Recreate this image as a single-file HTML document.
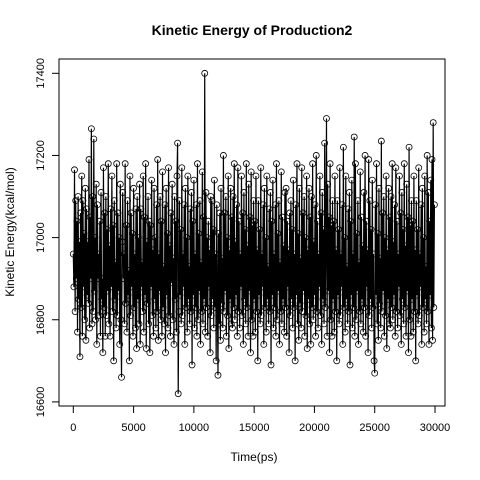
<!DOCTYPE html>
<html><head><meta charset="utf-8"><style>
html,body{margin:0;padding:0;background:#fff;}
svg{display:block;font-family:"Liberation Sans",sans-serif;}
</style></head><body>
<svg id="chart" width="480" height="480" viewBox="0 0 480 480">
<rect width="480" height="480" fill="#fff"/>
<text x="252" y="35" text-anchor="middle" font-size="14" font-weight="bold">Kinetic Energy of Production2</text>
<text x="254" y="461" text-anchor="middle" font-size="12">Time(ps)</text>
<text transform="translate(14,232) rotate(-90)" text-anchor="middle" font-size="12">Kinetic Energy(kcal/mol)</text>
<g id="series"></g>
<rect x="59" y="59" width="386" height="347" fill="none" stroke="#000" stroke-width="1"/>
<g id="axes"></g>
</svg>
<script>
const xTicks=[0,5000,10000,15000,20000,25000,30000];
const yTicks=[16600,16800,17000,17200,17400];
const timeStep=50;
const energy=[
16960,16880,17165,16820,17090,16900,17040,16770,17100,16850,16990,16710,17060,16830,17150,16760,17090,16880,17010,16800,
17120,16750,17070,16860,16990,16840,17190,16780,17050,16900,17265,16790,17100,16820,17240,16870,17000,16800,17130,16740,
17080,16900,16960,16810,17040,16760,17110,16850,16900,16720,17170,16830,17060,16760,17100,16810,17020,16870,17180,16790,
16980,16760,17070,16880,17150,16820,17030,16700,17090,16850,16940,16780,17180,16810,17060,16870,17000,16740,17130,16800,
16660,16990,17110,16900,16960,16790,17180,16840,17030,16770,17090,16860,16920,16700,17150,16810,17060,16880,17010,16760,
17120,16830,16960,16780,17070,16730,17100,16850,17000,16790,17130,16740,17070,16880,16940,16820,17150,16770,17050,16860,
17180,16730,16990,16840,17100,16790,17040,16720,17030,16880,17140,16810,16970,16760,17120,16850,17000,16780,17080,16820,
17190,16750,16960,16870,17100,16800,17040,16760,17160,16830,16930,16790,17080,16720,17120,16860,17010,16780,17170,16810,
16980,16760,17060,16890,17130,16800,16950,16740,17100,16850,17040,16770,17150,17230,16620,16820,17090,16860,17020,16790,
17170,16810,16960,16880,17080,16740,17120,16830,17000,16770,17150,16850,16930,16790,17070,16820,17110,16690,17040,16860,
17140,16780,16960,16830,17080,16760,17180,16800,17010,16870,17090,16740,16940,16820,17160,16790,17050,16850,17400,16770,
17110,16830,17000,16760,17040,16880,16970,16720,17100,16810,17090,16850,17020,16780,17140,16830,16960,16700,17080,16860,
16665,17010,16790,17060,16750,17120,16840,16950,16780,17200,16820,17060,16870,17100,16760,17000,16810,17150,16730,16970,
16850,17120,16790,17050,16780,17100,16830,17180,16800,16990,16860,17080,16760,17170,16820,17040,16780,16960,16880,17150,
16810,17060,16740,17110,16850,17020,16790,17180,16830,16980,16760,17130,16870,17050,16720,17160,16800,17030,16760,17090,
16850,17040,16770,17150,16820,16970,16700,17090,16860,17020,16790,17170,16810,16960,16880,17080,16740,17120,16830,17000,
16770,17150,16850,16930,16790,17070,16820,17110,16690,17040,16860,17140,16780,16960,16830,17080,16760,17180,16800,17010,
16870,17090,16740,16940,16820,17160,16790,17050,16850,16980,16770,17110,16830,17120,16760,17040,16880,16970,16720,17060,
16810,17090,16850,17020,16780,17140,16830,16960,16700,17080,16860,17180,16790,17010,16750,17120,16840,16950,16780,17170,
16820,17060,16870,17100,16760,17000,16810,17150,16730,16970,16850,17120,16790,17050,16740,17100,16830,17180,16800,16990,
16860,17080,16760,17200,16820,17040,16780,16960,16880,17150,16810,17060,16740,17110,16850,17020,16790,17230,16830,16980,
17290,16760,17130,16870,17050,16720,17180,16800,17030,16760,17090,16850,17040,16770,17150,16820,16970,16700,17090,16860,
17020,16790,17170,16810,16960,16880,17080,16740,17220,16830,17000,16770,17150,16850,16930,16790,17070,16820,17110,16690,
17040,16860,17140,16780,16960,16830,17245,16760,17180,16800,17010,16870,17090,16740,16940,16820,17160,16790,17050,16850,
16980,16770,17110,16830,17200,16760,17040,16880,16970,16720,17190,16810,17090,16850,17020,16780,17140,16830,16960,16700,
16670,17080,16860,17180,16790,17010,16750,17120,16840,16950,16780,17235,16820,17060,16870,17100,16760,17000,16810,17150,
16730,16970,16850,17120,16790,17050,16780,17100,16830,17180,16800,16990,16860,17080,16760,17170,16820,17040,16780,16960,
16880,17150,16810,17060,16740,17110,16850,17020,16790,17180,16830,16980,16760,17130,16870,17050,16720,17220,16800,17030,
16760,17090,16850,17040,16770,17150,16820,16970,16700,17090,16860,17020,16790,17170,16810,16960,16880,17080,16740,17120,
16830,17000,16770,17150,16850,16930,16790,17200,16820,17110,16740,17040,16860,17140,16780,17190,16750,17280,16830,17080
];
const X0=73.3,X1=435,Y0=401.9,Y1=73.3;
function xs(t){return X0+(t-0)/(30000-0)*(X1-X0);}
function ys(v){return Y0+(v-16600)/(17400-16600)*(Y1-Y0);}
const NS="http://www.w3.org/2000/svg";
const axes=document.getElementById('axes');
function mk(tag,attrs,parent){const e=document.createElementNS(NS,tag);for(const k in attrs)e.setAttribute(k,attrs[k]);parent.appendChild(e);return e;}
mk('line',{x1:xs(xTicks[0]),x2:xs(xTicks[xTicks.length-1]),y1:406,y2:406,stroke:'#000'},axes);
xTicks.forEach(t=>{
  const l=mk('line',{x1:xs(t),x2:xs(t),y1:406,y2:413,stroke:'#000'},axes);
  
  
  const tx=mk('text',{x:xs(t),y:431,'text-anchor':'middle','font-size':'11'},axes);
  tx.textContent=t;
  
  
});
mk('line',{x1:59,x2:59,y1:ys(yTicks[0]),y2:ys(yTicks[yTicks.length-1]),stroke:'#000'},axes);
yTicks.forEach(v=>{
  const l=mk('line',{x1:52,x2:59,y1:ys(v),y2:ys(v),stroke:'#000'},axes);
  
  
  const tx=mk('text',{transform:`translate(44,${ys(v)}) rotate(-90)`,'text-anchor':'middle','font-size':'11'},axes);
  tx.textContent=v;
  
  
});
const g=document.getElementById('series');
let d='';
energy.forEach((v,i)=>{d+=(i?'L':'M')+xs(i*timeStep).toFixed(2)+' '+ys(v).toFixed(2);});
const line=mk('path',{d:d,fill:'none',stroke:'#000','stroke-width':'1.2'},g);


energy.forEach((v,i)=>{
  const c=mk('circle',{cx:xs(i*timeStep),cy:ys(v),r:3,fill:'none',stroke:'#000','stroke-width':'0.8'},g);
  
  
});
</script>
</body></html>
